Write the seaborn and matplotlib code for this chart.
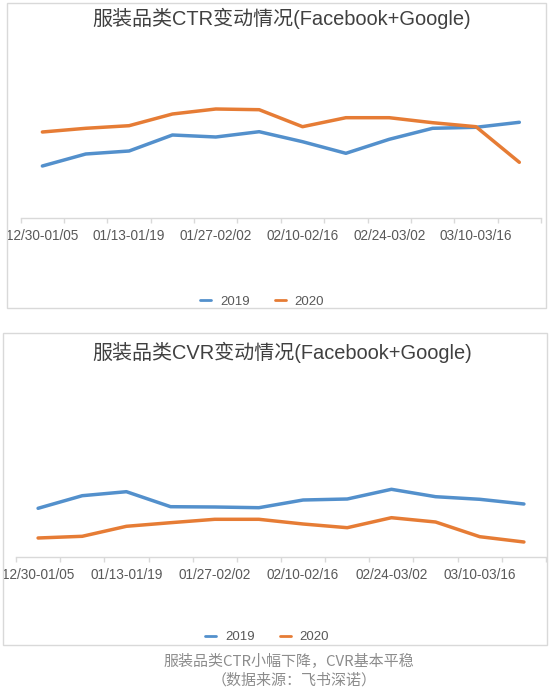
import matplotlib
matplotlib.use("Agg")
import matplotlib.pyplot as plt
from matplotlib.patches import Rectangle
from matplotlib.lines import Line2D
import seaborn as sns
import pandas as pd

weeks = ["12/30-01/05", "01/06-01/12", "01/13-01/19", "01/20-01/26",
         "01/27-02/02", "02/03-02/09", "02/10-02/16", "02/17-02/23",
         "02/24-03/02", "03/03-03/09", "03/10-03/16", "03/17-03/23"]
years = ["2019", "2020"]
ctr_2019 = [0.523, 0.643, 0.673, 0.833, 0.813, 0.866, 0.766, 0.650, 0.790, 0.900, 0.910, 0.960]
ctr_2020 = [0.863, 0.900, 0.926, 1.043, 1.093, 1.086, 0.916, 1.006, 1.006, 0.956, 0.916, 0.560]
cvr_2019 = [0.490, 0.616, 0.656, 0.506, 0.503, 0.496, 0.573, 0.583, 0.680, 0.606, 0.580, 0.533]
cvr_2020 = [0.193, 0.210, 0.310, 0.346, 0.380, 0.380, 0.333, 0.296, 0.396, 0.353, 0.206, 0.153]
titles = ["服装品类CTR变动情况(Facebook+Google)", "服装品类CVR变动情况(Facebook+Google)"]
caption = ["服装品类CTR小幅下降，CVR基本平稳", "（数据来源：飞书深诺）"]

colors = {"2019": "#5390CC", "2020": "#E67C35"}
FAM = ["Liberation Sans", "Noto Sans CJK SC", "DejaVu Sans"]

sns.set_theme(style="white")
plt.rcParams["font.family"] = FAM

W, H = 550, 695
fig = plt.figure(figsize=(W / 100, H / 100), dpi=100)


def fx(px):
    return px / W


def fy(py):
    return 1 - py / H


def make_df(a, b):
    return pd.DataFrame({
        "week": weeks * 2,
        "year": [years[0]] * len(weeks) + [years[1]] * len(weeks),
        "value": list(a) + list(b),
    })


panels = [
    dict(l=20.7, r=541.0, b=218.3, t=40.0, data=make_df(ctr_2019, ctr_2020),
         ty=18.0, ly=301.7, lx=262.0, box=(7.3, 2.7, 546.0, 308.0), title=titles[0]),
    dict(l=16.0, r=546.0, b=557.3, t=380.0, data=make_df(cvr_2019, cvr_2020),
         ty=352.0, ly=637.3, lx=267.0, box=(2.5, 333.0, 547.0, 645.0), title=titles[1]),
]

for p in panels:
    x0, y0, x1, y1 = p["box"]
    fig.patches.append(Rectangle((fx(x0), fy(y1)), fx(x1 - x0), (y1 - y0) / H,
                                 transform=fig.transFigure, fill=False,
                                 edgecolor="#d9d9d9", linewidth=1.0))
    ax = fig.add_axes([fx(p["l"]), fy(p["b"]), fx(p["r"] - p["l"]), (p["b"] - p["t"]) / H])
    sns.lineplot(data=p["data"], x="week", y="value", hue="year", palette=colors,
                 linewidth=2.5, ax=ax, legend=False, sort=False)
    ax.set_xlim(-0.5, len(weeks) - 0.5)
    ax.set_ylim(0, (p["b"] - p["t"]) / 100)
    ax.set_xlabel("")
    ax.set_ylabel("")
    ax.set_yticks([])
    for s in ["top", "right", "left"]:
        ax.spines[s].set_visible(False)
    ax.spines["bottom"].set_color("#d9d9d9")
    ax.spines["bottom"].set_linewidth(1.0)
    ax.set_xticks([i - 0.5 for i in range(len(weeks) + 1)])
    ax.set_xticklabels([])
    ax.tick_params(axis="x", which="major", length=3.5, width=1.0, color="#d9d9d9",
                   direction="out", bottom=True)
    ax.set_xticks(list(range(0, len(weeks), 2)), minor=True)
    ax.set_xticklabels([weeks[i] for i in range(0, len(weeks), 2)], minor=True)
    ax.tick_params(axis="x", which="minor", length=0, pad=7.5, labelsize=9.8,
                   labelcolor="#595959")
    ax.patch.set_alpha(0)
    fig.text(fx(282), fy(p["ty"]), p["title"], ha="center", va="center",
             fontsize=14.4, color="#404040", family=FAM)
    handles = [Line2D([], [], color=colors[y], linewidth=2.0) for y in years]
    fig.legend(handles, years, loc="center", bbox_to_anchor=(fx(p["lx"]), fy(p["ly"])),
               ncol=2, frameon=False, fontsize=9.5, handlelength=0.85,
               handletextpad=0.65, columnspacing=1.9, labelcolor="#595959")

fig.text(fx(289), fy(660.7), caption[0], ha="center", va="center",
         fontsize=10.8, color="#8c8c8c", family=["Noto Sans CJK SC", "DejaVu Sans"])
fig.text(fx(294), fy(680.0), caption[1], ha="center", va="center",
         fontsize=10.8, color="#8c8c8c", family=["Noto Sans CJK SC", "DejaVu Sans"])

fig.savefig("out.png", dpi=100, facecolor="white")
